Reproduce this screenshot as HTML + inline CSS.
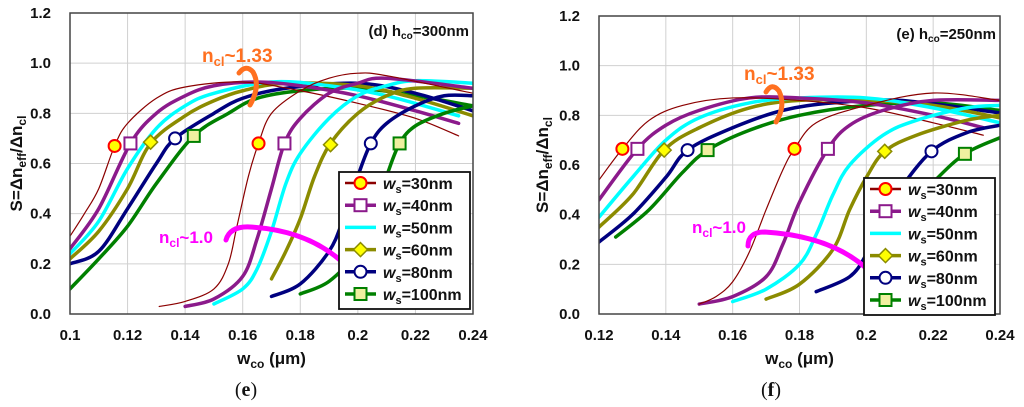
<!DOCTYPE html>
<html><head><meta charset="utf-8">
<style>
body{margin:0;background:#fff;}
svg{display:block;font-family:"Liberation Sans",Arial,sans-serif;}
.tk{font-size:15px;font-weight:bold;fill:#111;}
.ttl{font-size:17px;font-weight:bold;fill:#111;}
.leg{font-size:16px;font-weight:bold;fill:#111;}
</style></head>
<body>
<svg id="chart" width="1024" height="407" viewBox="0 0 1024 407" xmlns="http://www.w3.org/2000/svg"></svg>
<script>
const seriesNames = ["ws=30nm","ws=40nm","ws=50nm","ws=60nm","ws=80nm","ws=100nm"];
const seriesLabels = ["30nm","40nm","50nm","60nm","80nm","100nm"];
const yTicks = [0,0.2,0.4,0.6,0.8,1.0,1.2];
const xTicksLeft = [0.1,0.12,0.14,0.16,0.18,0.2,0.22,0.24];
const xTicksRight = [0.12,0.14,0.16,0.18,0.2,0.22,0.24];

const L133_30 = [[0.1,0.31],[0.105,0.4],[0.11,0.5],[0.1155,0.67],[0.12,0.76],[0.13,0.86],[0.14,0.905],[0.16,0.925],[0.18,0.89],[0.2,0.84],[0.22,0.78],[0.235,0.71]];
const L133_40 = [[0.1,0.26],[0.11,0.42],[0.121,0.68],[0.13,0.8],[0.14,0.87],[0.15,0.91],[0.165,0.925],[0.18,0.91],[0.2,0.87],[0.22,0.81],[0.235,0.76]];
const L133_50 = [[0.1,0.24],[0.11,0.37],[0.12,0.58],[0.13,0.74],[0.14,0.83],[0.15,0.88],[0.17,0.925],[0.19,0.91],[0.21,0.87],[0.235,0.79]];
const L133_60 = [[0.1,0.22],[0.11,0.33],[0.12,0.5],[0.128,0.68],[0.14,0.79],[0.15,0.85],[0.16,0.89],[0.175,0.92],[0.2,0.91],[0.22,0.86],[0.24,0.79]];
const L133_80 = [[0.1,0.2],[0.11,0.25],[0.12,0.42],[0.13,0.6],[0.1365,0.7],[0.15,0.8],[0.16,0.86],[0.175,0.9],[0.2,0.92],[0.22,0.88],[0.24,0.81]];
const L133_100 = [[0.1,0.1],[0.11,0.22],[0.12,0.35],[0.13,0.52],[0.143,0.71],[0.155,0.8],[0.165,0.86],[0.18,0.89],[0.2,0.9],[0.22,0.87],[0.24,0.83]];
const L100_30 = [[0.131,0.03],[0.14,0.05],[0.15,0.1],[0.155,0.2],[0.158,0.35],[0.162,0.55],[0.1655,0.68],[0.17,0.8],[0.18,0.89],[0.19,0.94],[0.2,0.96],[0.21,0.95],[0.24,0.88]];
const L100_40 = [[0.14,0.03],[0.15,0.06],[0.16,0.15],[0.165,0.3],[0.17,0.5],[0.1745,0.68],[0.18,0.78],[0.19,0.88],[0.2,0.92],[0.21,0.94],[0.24,0.9]];
const L100_50 = [[0.15,0.04],[0.16,0.1],[0.165,0.18],[0.17,0.33],[0.175,0.52],[0.18,0.64],[0.19,0.78],[0.2,0.87],[0.21,0.91],[0.22,0.93],[0.24,0.92]];
const L100_60 = [[0.17,0.14],[0.175,0.25],[0.18,0.38],[0.185,0.55],[0.1905,0.68],[0.2,0.8],[0.21,0.87],[0.22,0.9],[0.24,0.9]];
const L100_80 = [[0.17,0.07],[0.18,0.12],[0.19,0.25],[0.195,0.38],[0.2,0.55],[0.2045,0.68],[0.21,0.76],[0.22,0.83],[0.23,0.87],[0.24,0.87]];
const L100_100 = [[0.18,0.08],[0.19,0.13],[0.2,0.25],[0.205,0.38],[0.21,0.55],[0.2145,0.68],[0.22,0.75],[0.23,0.8],[0.24,0.83]];
const LmarkX = [0.1155,0.121,0.128,0.1365,0.143, 0.1655,0.1745,0.1905,0.2045,0.2145];
const LmarkY = [0.67,0.68,0.685,0.70,0.71, 0.68,0.68,0.675,0.68,0.68];
const LmarkS = [0,1,3,4,5, 0,1,3,4,5];

const R133_30 = [[0.12,0.54],[0.127,0.665],[0.135,0.78],[0.145,0.84],[0.16,0.87],[0.18,0.86],[0.2,0.83],[0.22,0.77],[0.235,0.72]];
const R133_40 = [[0.12,0.46],[0.1315,0.665],[0.14,0.76],[0.15,0.82],[0.165,0.87],[0.18,0.87],[0.2,0.85],[0.22,0.8],[0.235,0.75]];
const R133_50 = [[0.12,0.39],[0.13,0.55],[0.14,0.7],[0.15,0.79],[0.165,0.85],[0.18,0.87],[0.2,0.87],[0.22,0.83],[0.24,0.77]];
const R133_60 = [[0.12,0.35],[0.13,0.48],[0.1395,0.66],[0.15,0.75],[0.165,0.83],[0.18,0.86],[0.2,0.86],[0.22,0.84],[0.24,0.79]];
const R133_80 = [[0.12,0.29],[0.13,0.4],[0.14,0.55],[0.1465,0.66],[0.16,0.75],[0.175,0.82],[0.19,0.85],[0.21,0.86],[0.24,0.81]];
const R133_100 = [[0.125,0.31],[0.135,0.42],[0.145,0.57],[0.1525,0.66],[0.165,0.74],[0.18,0.8],[0.2,0.84],[0.22,0.85],[0.24,0.82]];
const R100_30 = [[0.15,0.04],[0.155,0.07],[0.16,0.13],[0.165,0.25],[0.17,0.42],[0.175,0.58],[0.1785,0.665],[0.185,0.77],[0.2,0.84],[0.22,0.89],[0.24,0.86]];
const R100_40 = [[0.15,0.04],[0.16,0.07],[0.17,0.15],[0.175,0.28],[0.18,0.45],[0.1885,0.665],[0.195,0.76],[0.205,0.82],[0.22,0.86],[0.24,0.86]];
const R100_50 = [[0.16,0.05],[0.17,0.1],[0.18,0.2],[0.185,0.32],[0.19,0.48],[0.195,0.6],[0.205,0.72],[0.215,0.78],[0.23,0.83],[0.24,0.84]];
const R100_60 = [[0.17,0.06],[0.18,0.12],[0.19,0.26],[0.195,0.42],[0.2,0.55],[0.2055,0.655],[0.215,0.72],[0.23,0.78],[0.24,0.8]];
const R100_80 = [[0.185,0.09],[0.195,0.15],[0.2,0.24],[0.205,0.38],[0.21,0.5],[0.2195,0.655],[0.23,0.73],[0.24,0.76]];
const R100_100 = [[0.2,0.2],[0.21,0.38],[0.22,0.53],[0.2295,0.645],[0.24,0.71]];
const RmarkX = [0.127,0.1315,0.1395,0.1465,0.1525, 0.1785,0.1885,0.2055,0.2195,0.2295];
const RmarkY = [0.665,0.665,0.66,0.66,0.66, 0.665,0.665,0.655,0.655,0.645];
const RmarkS = [0,1,3,4,5, 0,1,3,4,5];

const colors = ["#8b0000","#8b1a8b","#00ffff","#8b8b00","#00007f","#008000"];
const widths = [1.2,3.5,3.5,3.5,3.5,3.5];
const NS="http://www.w3.org/2000/svg";
const svg=document.getElementById('chart');
function mk(tag,attrs,parent){const e=document.createElementNS(NS,tag);for(const k in attrs)e.setAttribute(k,attrs[k]);(parent||svg).appendChild(e);return e;}

function smoothPath(p){
  let d='M'+p[0][0].toFixed(2)+','+p[0][1].toFixed(2);
  for(let i=0;i<p.length-1;i++){
    const p0=p[Math.max(0,i-1)],p1=p[i],p2=p[i+1],p3=p[Math.min(p.length-1,i+2)];
    const c1x=p1[0]+(p2[0]-p0[0])/6,c1y=p1[1]+(p2[1]-p0[1])/6;
    const c2x=p2[0]-(p3[0]-p1[0])/6,c2y=p2[1]-(p3[1]-p1[1])/6;
    d+=` C${c1x.toFixed(2)},${c1y.toFixed(2)} ${c2x.toFixed(2)},${c2y.toFixed(2)} ${p2[0].toFixed(2)},${p2[1].toFixed(2)}`;
  }
  return d;
}

function marker(g,s,x,y){
  let m;
  if(s===0){m=mk('circle',{cx:x,cy:y,r:6,fill:'#ffff00',stroke:'#ff0000','stroke-width':2},g);}
  else if(s===1){m=mk('rect',{x:x-6,y:y-6,width:12,height:12,fill:'#fff',stroke:'#8b1a8b','stroke-width':2},g);}
  else if(s===3){m=mk('polygon',{points:`${x},${y-7} ${x+7},${y} ${x},${y+7} ${x-7},${y}`,fill:'#ffff00',stroke:'#8b8b00','stroke-width':1.5},g);}
  else if(s===4){m=mk('circle',{cx:x,cy:y,r:6,fill:'#fff',stroke:'#00007f','stroke-width':2},g);}
  else {m=mk('rect',{x:x-6,y:y-6,width:12,height:12,fill:'#f0f0a0',stroke:'#008000','stroke-width':2},g);}
  return m;
}

function panel(o){
  const X=v=>o.x0+(v-o.xmin)/(o.xmax-o.xmin)*(o.x1-o.x0);
  const Y=v=>o.y0-(v/1.2)*(o.y0-o.y1);
  const g=mk('g',{});
  
  
  o.xt.forEach(t=>{const l=mk('line',{x1:X(t),x2:X(t),y1:o.y1,y2:o.y0,stroke:'#d0d0d0','stroke-width':1},g);
    
    const tx=mk('text',{x:X(t),y:o.y0+26,'text-anchor':'middle',class:'tk'},g);tx.textContent=String(t);
    });
  yTicks.forEach(t=>{const l=mk('line',{x1:o.x0,x2:o.x1,y1:Y(t),y2:Y(t),stroke:'#d0d0d0','stroke-width':1},g);
    
    const tx=mk('text',{x:o.x0-19,y:Y(t)+5,'text-anchor':'end',class:'tk'},g);tx.textContent=t.toFixed(1);
    });
  const clip='clip'+o.name;
  const cp=mk('clipPath',{id:clip},g);mk('rect',{x:o.x0,y:o.y1,width:o.x1-o.x0,height:o.y0-o.y1},cp);
  const cg=mk('g',{'clip-path':`url(#${clip})`},g);
  const draw=(arr,i,tag)=>{const p=mk('path',{d:smoothPath(arr.map(d=>[X(d[0]),Y(d[1])])),fill:'none',stroke:colors[i],'stroke-width':widths[i],'stroke-linejoin':'round','stroke-linecap':'round'},cg);
    };
  for(let i=5;i>=0;i--){draw(o.c133[i],i,'curve-ncl133');}
  for(let i=5;i>=0;i--){draw(o.c100[i],i,'curve-ncl100');}
  o.mx.forEach((v,k)=>{const m=marker(cg,o.ms[k],X(v),Y(o.my[k]));
    });
  const a1=mk('path',{d:o.orange,fill:'none',stroke:'#ff7020','stroke-width':5,'stroke-linecap':'round'},g);
  
  const t1=mk('text',{x:o.otx,y:o.oty,fill:'#ff7020','font-size':19,'font-weight':'bold'},g);
  t1.innerHTML='n<tspan font-size="13" dy="4">cl</tspan><tspan dy="-4">~1.33</tspan>';
  
  const a2=mk('path',{d:o.pink,fill:'none',stroke:'#ff00ff','stroke-width':5,'stroke-linecap':'round'},g);
  
  const t2=mk('text',{x:o.ptx,y:o.pty,fill:'#ff00ff','font-size':17,'font-weight':'bold'},g);
  t2.innerHTML='n<tspan font-size="12" dy="4">cl</tspan><tspan dy="-4">~1.0</tspan>';
  
  const fr=mk('rect',{x:o.x0,y:o.y1,width:o.x1-o.x0,height:o.y0-o.y1,fill:'none',stroke:'#444','stroke-width':1.5},g);
  
  const ti=mk('text',{x:o.x1-4,y:o.y1+23,'text-anchor':'end','font-size':15,'font-weight':'bold',fill:'#111'},g);
  ti.innerHTML=o.title+' h<tspan font-size="10" dy="3">co</tspan><tspan dy="-3">='+o.h+'</tspan>';
  
  const lg=mk('g',{},g);
  mk('rect',{x:o.lx,y:o.ly,width:131,height:137,fill:'#fff',stroke:'#111','stroke-width':1.8},lg);
  for(let i=0;i<6;i++){
    const cy=o.ly+11+i*22.2;
    const e=mk('g',{},lg);
    mk('line',{x1:o.lx+6,x2:o.lx+37,y1:cy,y2:cy,stroke:colors[i],'stroke-width':i===0?2.5:3.5},e);
    if(i!==2){marker(e,i,o.lx+21.5,cy);}
    const t=mk('text',{x:o.lx+44,y:cy+6,class:'leg'},e);
    t.innerHTML='<tspan font-style="italic">w</tspan><tspan font-size="11" dy="4">s</tspan><tspan dy="-4">='+seriesLabels[i]+'</tspan>';
  }
  const xt=mk('text',{x:(o.x0+o.x1)/2,y:o.y0+50,'text-anchor':'middle',class:'ttl'},g);
  xt.innerHTML='w<tspan font-size="12" dy="4">co</tspan><tspan dy="-4"> (μm)</tspan>';
  
  const yt=mk('text',{x:0,y:0,'text-anchor':'middle',class:'ttl',transform:`translate(${o.ytx},${(o.y0+o.y1)/2}) rotate(-90)`},g);
  yt.innerHTML='S=Δn<tspan font-size="12" dy="4">eff</tspan><tspan dy="-4">/Δn</tspan><tspan font-size="12" dy="4">cl</tspan>';
  
  const cap=mk('text',{x:o.capx,y:396,'text-anchor':'middle','font-family':'Liberation Serif,serif','font-size':20,fill:'#111'},g);
  cap.innerHTML='(<tspan font-weight="bold">'+o.cap+'</tspan>)';
  
}

panel({name:'panel-left',x0:70,x1:473,y0:314,y1:13,xmin:0.1,xmax:0.24,xt:xTicksLeft,
  c133:[L133_30,L133_40,L133_50,L133_60,L133_80,L133_100],c100:[L100_30,L100_40,L100_50,L100_60,L100_80,L100_100],
  mx:LmarkX,my:LmarkY,ms:LmarkS,
  orange:'M239,73 Q246,64 253,72 Q261,86 250,105',otx:202,oty:62,
  pink:'M226,240 Q230,226 250,227 Q305,230 340,260',ptx:159,pty:243,
  title:'(d)',h:'300nm',lx:339,ly:172,ytx:22,capx:246,cap:'e'});
panel({name:'panel-right',x0:599,x1:1000,y0:314,y1:16,xmin:0.12,xmax:0.24,xt:xTicksRight,
  c133:[R133_30,R133_40,R133_50,R133_60,R133_80,R133_100],c100:[R100_30,R100_40,R100_50,R100_60,R100_80,R100_100],
  mx:RmarkX,my:RmarkY,ms:RmarkS,
  orange:'M766,92 Q772,82 779,91 Q786,106 776,122',otx:744,oty:80,
  pink:'M748,246 Q748,232 765,232 Q830,236 866,268',ptx:692,pty:233,
  title:'(e)',h:'250nm',lx:864,ly:178,ytx:548,capx:771,cap:'f'});
</script>
</body></html>
